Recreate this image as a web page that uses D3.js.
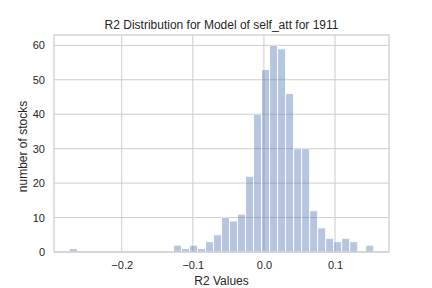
<!DOCTYPE html>
<html>
<head>
<meta charset="utf-8">
<script src="https://cdn.jsdelivr.net/npm/d3@7"></script>
<style>
  html, body { margin: 0; padding: 0; background: #fff; }
  svg { display: block; font-family: "Liberation Sans", Arial, sans-serif; }
</style>
</head>
<body>
<svg id="chart" width="432" height="288"></svg>
<script>
// ---- data ----
const titleText = "R2 Distribution for Model of self_att for 1911";
const xLabel = "R2 Values";
const yLabel = "number of stocks";
const dataMin = -0.2738;   // left edge of the first bin
const dataMax = 0.1545;    // right edge of the last bin
const binCounts = [1, 0, 0, 0, 0, 0, 0, 0, 0, 0, 0, 0, 0,
                   2, 1, 2, 1, 3, 5, 10, 9, 11, 22, 40, 53, 60, 59, 46,
                   30, 30, 12, 7, 4, 3, 4, 3, 0, 2];
const xTicks = [-0.2, -0.1, 0.0, 0.1];
const yTicks = [0, 10, 20, 30, 40, 50, 60];

// ---- layout ----
const W = 432, H = 288;
const m = { left: 54, right: 389, top: 35, bottom: 252 };

const svg = d3.select("#chart");

const nBins = binCounts.length;
const binW = (dataMax - dataMin) / nBins;
const bins = binCounts.map((c, i) => ({ x0: dataMin + i * binW, x1: dataMin + (i + 1) * binW, count: c }));

const span = dataMax - dataMin;
const x = d3.scaleLinear()
  .domain([dataMin - 0.05 * span, dataMax + 0.05 * span])
  .range([m.left, m.right]);
const yMax = d3.max(binCounts) * 1.05;
const y = d3.scaleLinear().domain([0, yMax]).range([m.bottom, m.top]);

const fmt = d => (d < 0 ? "\u2212" : "") + Math.abs(d).toFixed(1);

// grid
const grid = svg.append("g");
grid.selectAll("line.v").data(xTicks).enter().append("line")
  .attr("x1", d => x(d)).attr("x2", d => x(d))
  .attr("y1", m.top).attr("y2", m.bottom)
  .attr("stroke", "#cccccc").attr("stroke-width", 1);
grid.selectAll("line.h").data(yTicks).enter().append("line")
  .attr("x1", m.left).attr("x2", m.right)
  .attr("y1", d => y(d)).attr("y2", d => y(d))
  .attr("stroke", "#cccccc").attr("stroke-width", 1);

// bars
svg.append("g").selectAll("rect").data(bins.filter(b => b.count > 0)).enter().append("rect")
  .attr("x", d => x(d.x0))
  .attr("width", d => x(d.x1) - x(d.x0))
  .attr("y", d => y(d.count))
  .attr("height", d => y(0) - y(d.count))
  .attr("fill", "#4C72B0")
  .attr("stroke", "#ffffff")
  .attr("stroke-width", 1)
  .attr("opacity", 0.4);

// frame
svg.append("rect")
  .attr("x", m.left).attr("y", m.top)
  .attr("width", m.right - m.left).attr("height", m.bottom - m.top)
  .attr("fill", "none").attr("stroke", "#cccccc").attr("stroke-width", 1.25);

// axes (tick labels only, no tick marks)
const xAxis = d3.axisBottom(x).tickValues(xTicks).tickFormat(fmt).tickSize(0).tickPadding(9);
const gx = svg.append("g").attr("transform", `translate(0,${m.bottom})`).call(xAxis);
gx.select(".domain").remove();
gx.selectAll("text").attr("fill", "#262626").style("font-size", "11px").style("font-family", "Liberation Sans, Arial, sans-serif");

const yAxis = d3.axisLeft(y).tickValues(yTicks).tickFormat(d3.format("d")).tickSize(0).tickPadding(9);
const gy = svg.append("g").attr("transform", `translate(${m.left},0)`).call(yAxis);
gy.select(".domain").remove();
gy.selectAll("text").attr("fill", "#262626").style("font-size", "11px").style("font-family", "Liberation Sans, Arial, sans-serif");

// labels
svg.append("text").attr("x", (m.left + m.right) / 2).attr("y", 285)
  .attr("text-anchor", "middle").attr("fill", "#262626").style("font-size", "12px")
  .text(xLabel);
svg.append("text").attr("transform", `translate(27,${(m.top + m.bottom) / 2 + 3}) rotate(-90)`)
  .attr("text-anchor", "middle").attr("fill", "#262626").style("font-size", "12px")
  .text(yLabel);
svg.append("text").attr("x", (m.left + m.right) / 2).attr("y", 29)
  .attr("text-anchor", "middle").attr("fill", "#262626").style("font-size", "12px")
  .text(titleText);
</script>
</body>
</html>
